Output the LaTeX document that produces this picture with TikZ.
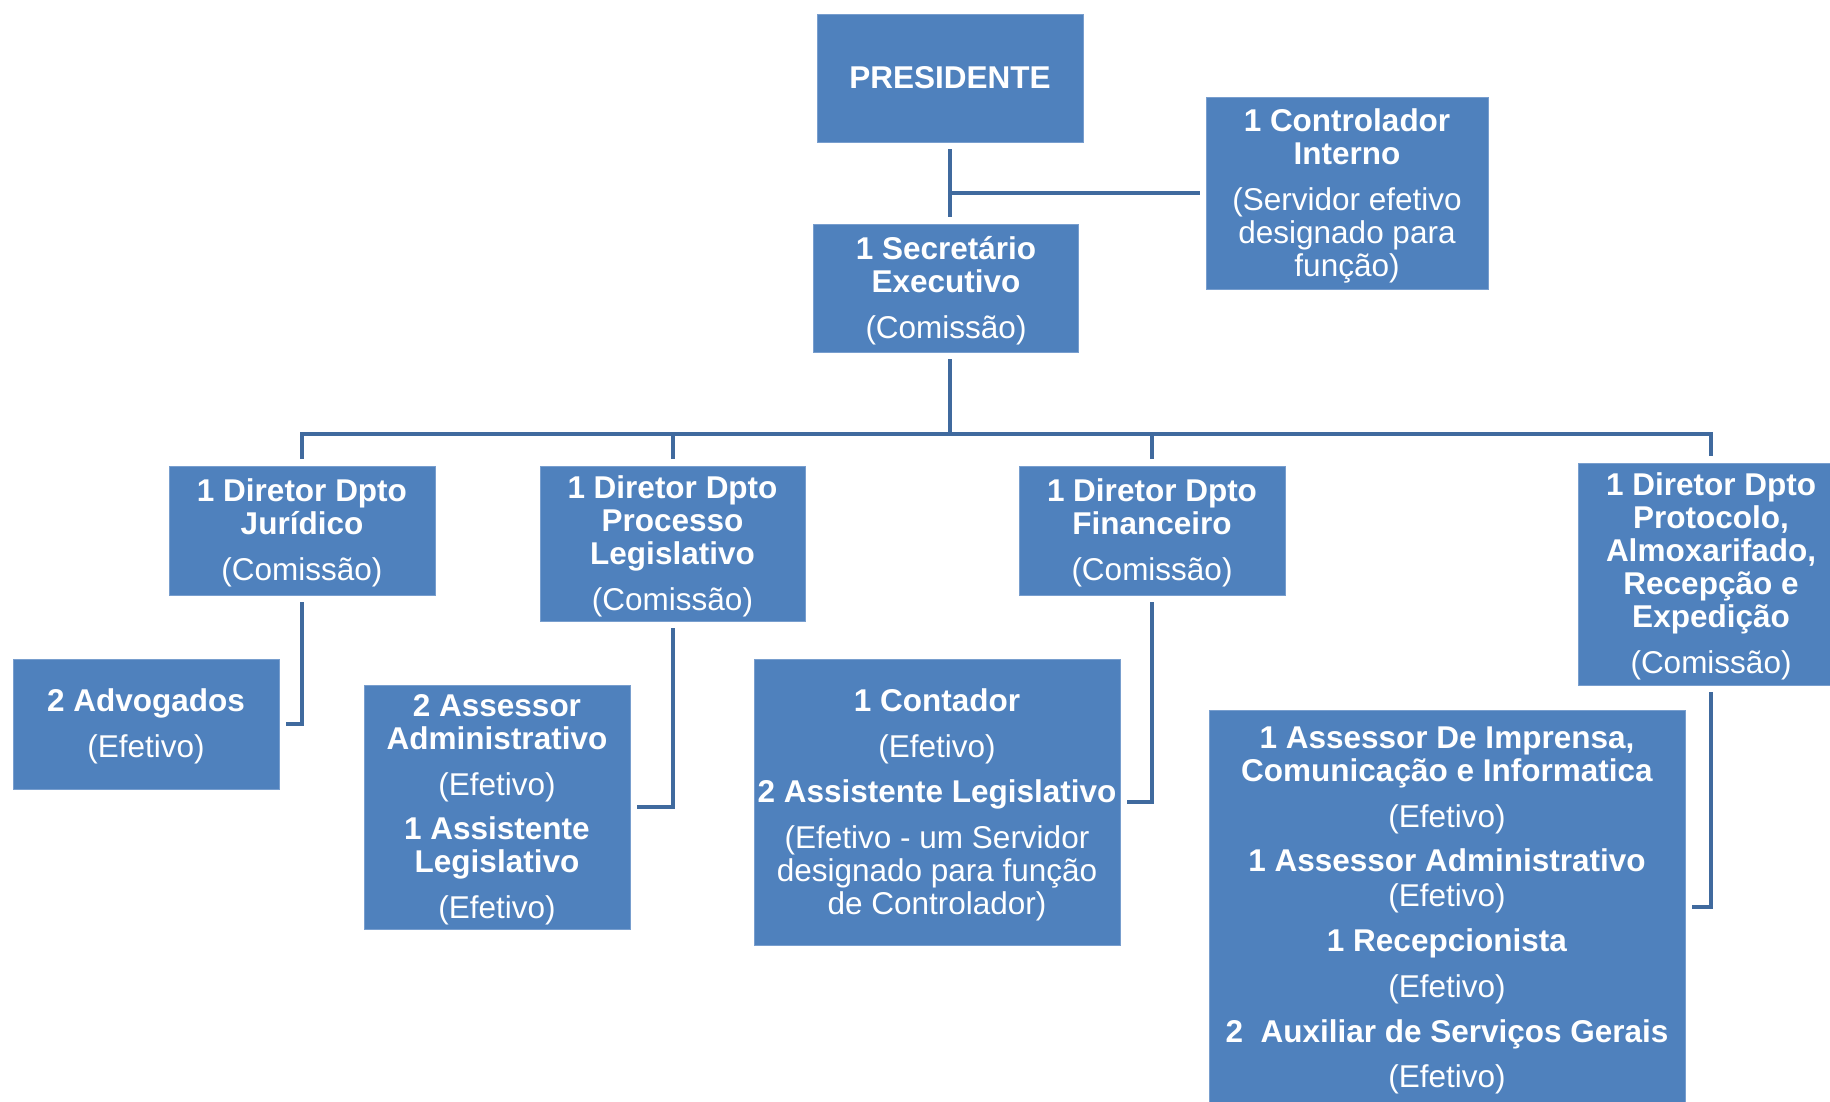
\documentclass[tikz,border=0pt]{standalone}
\usepackage{fontspec}
\setmainfont{Liberation Sans}
\definecolor{boxblue}{RGB}{79,129,189}
\definecolor{boxedge}{RGB}{120,158,206}
\definecolor{linkblue}{RGB}{64,106,158}
\newcommand{\tstrut}{\rule{0pt}{28pt}}
\begin{document}
\begin{tikzpicture}[x=1pt,y=-1pt,
  box/.style={rectangle, fill=boxblue, draw=boxedge, line width=0.8pt, text=white,
    align=center, inner sep=0pt, font=\fontsize{31.5}{33}\selectfont},
  conn/.style={draw=linkblue, line width=4pt}]
\useasboundingbox (0,0) rectangle (1830,1101);
\fill[white] (0,0) rectangle (1830,1101);

\node[box, minimum width=266pt, minimum height=128pt] (pres) at (950,78) {\textbf{PRESIDENTE}};
\node[box, minimum width=282pt, minimum height=192pt] (ctrl) at (1347,193)
  {\tstrut\textbf{1 Controlador}\\\textbf{Interno}\\[13pt](Servidor efetivo\\designado para\\função)};
\node[box, minimum width=265pt, minimum height=128pt] (sec) at (946,288)
  {\tstrut\textbf{1 Secretário}\\\textbf{Executivo}\\[13pt](Comissão)};

\node[box, minimum width=266pt, minimum height=129pt] (jur) at (302,530.5)
  {\tstrut\textbf{1 Diretor Dpto}\\\textbf{Jurídico}\\[13pt](Comissão)};
\node[box, minimum width=265pt, minimum height=155pt] (proc) at (672.5,543.5)
  {\tstrut\textbf{1 Diretor Dpto}\\\textbf{Processo}\\\textbf{Legislativo}\\[13pt](Comissão)};
\node[box, minimum width=266pt, minimum height=129pt] (fin) at (1152,530.5)
  {\tstrut\textbf{1 Diretor Dpto}\\\textbf{Financeiro}\\[13pt](Comissão)};
\node[box, minimum width=266pt, minimum height=222pt] (prot) at (1711,574)
  {\tstrut\textbf{1 Diretor Dpto}\\\textbf{Protocolo,}\\\textbf{Almoxarifado,}\\\textbf{Recepção e}\\\textbf{Expedição}\\[13pt](Comissão)};

\node[box, minimum width=266pt, minimum height=130pt] (adv) at (146,724)
  {\tstrut\textbf{2 Advogados}\\[13pt](Efetivo)};
\node[box, minimum width=266pt, minimum height=244pt] (asse) at (497,807)
  {\tstrut\textbf{2 Assessor}\\\textbf{Administrativo}\\[13pt](Efetivo)\\[11pt]\textbf{1 Assistente}\\\textbf{Legislativo}\\[13pt](Efetivo)};
\node[box, minimum width=366pt, minimum height=286pt] (cont) at (937,802)
  {\tstrut\textbf{1 Contador}\\[13pt](Efetivo)\\[12pt]\textbf{2 Assistente Legislativo}\\[13pt](Efetivo - um Servidor\\designado para função\\de Controlador)};
\node[box, minimum width=476pt, minimum height=394pt] (imp) at (1447,907)
  {\tstrut\textbf{1 Assessor De Imprensa,}\\\textbf{Comunicação e Informatica}\\[13pt](Efetivo)\\[11pt]\textbf{1 Assessor Administrativo}\\[2pt](Efetivo)\\[12pt]\textbf{1 Recepcionista}\\[13pt](Efetivo)\\[12pt]\textbf{2\ \ Auxiliar de Serviços Gerais}\\[12pt](Efetivo)};

\coordinate (bus) at (950,434);

% top connectors
\draw[conn] ([yshift=-7pt]pres.south) -- ([yshift=7pt]pres.south |- sec.north);
\draw[conn] (pres.south |- ctrl.west) -- ([xshift=-6pt]ctrl.west);
\draw[conn] ([yshift=-7pt]pres.south |- sec.south) -- (pres.south |- bus);

% bus to directors
\draw[conn] ([yshift=7pt]jur.north) -- (jur.north |- bus) -- (prot.north |- bus) -- ([yshift=7pt]prot.north);
\draw[conn] (proc.north |- bus) -- ([yshift=7pt]proc.north);
\draw[conn] (fin.north |- bus) -- ([yshift=7pt]fin.north);

% directors to staff
\draw[conn] ([yshift=-7pt]jur.south) |- ([xshift=7pt]adv.east);
\draw[conn] ([yshift=-7pt]proc.south) |- ([xshift=7pt]asse.east);
\draw[conn] ([yshift=-7pt]fin.south) |- ([xshift=7pt]cont.east);
\draw[conn] ([yshift=-7pt]prot.south) |- ([xshift=7pt]imp.east);
\end{tikzpicture}
\end{document}
